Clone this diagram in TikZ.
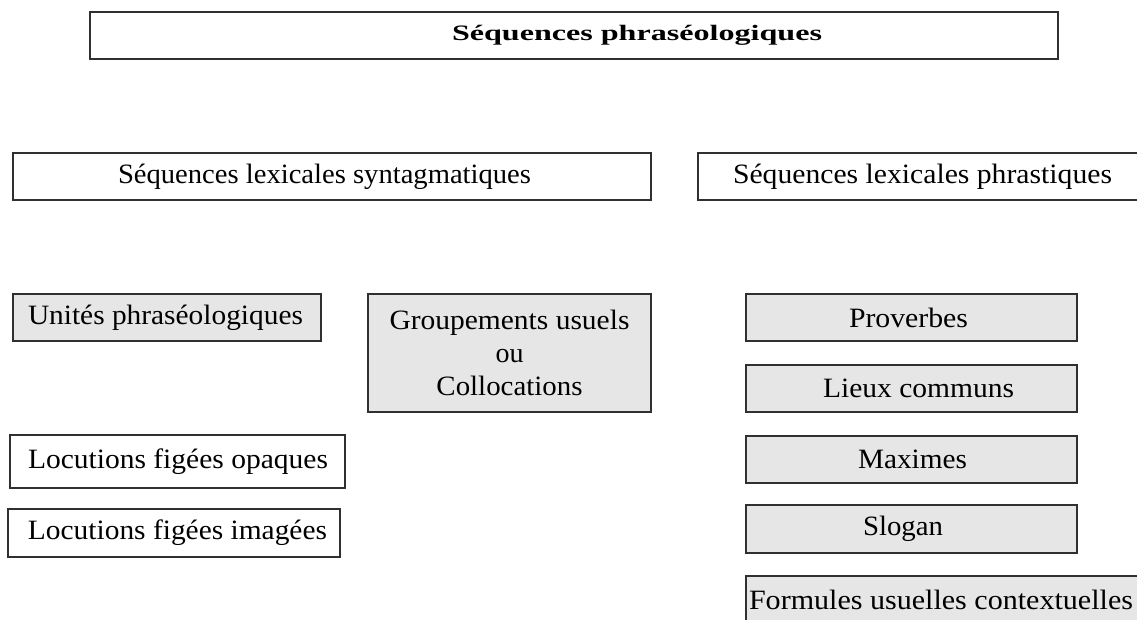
\documentclass[tikz,border=0pt]{standalone}
\usepackage{fontspec}
\setmainfont{Liberation Serif}
\usepackage{graphicx}
\definecolor{boxgray}{HTML}{E6E6E6}
\definecolor{boxline}{HTML}{303030}
\tikzset{
  box/.style={draw=boxline, line width=1.4pt, inner sep=0pt, rectangle},
  txt/.style={font=\fontsize{28}{33}\selectfont},
  ttl/.style={font=\bfseries\fontsize{22}{26}\selectfont}
}
% name, x1, y1, x2, y2, text left, text right, text, fill
\newcommand\bx[9]{%
  \node[box,fill=#9,minimum width=#4-#2,minimum height=#5-#3]
    (#1) at (\fpeval{(#2+#4)/2},-\fpeval{(#3+#5)/2})
    {\makebox[\fpeval{#4-#2}pt][l]{\hspace*{\fpeval{#6-#2}pt}\resizebox{\fpeval{#7-#6}pt}{\height}{#8}}};}
\begin{document}
\begin{tikzpicture}[x=1pt,y=1pt]
\useasboundingbox (0,0) rectangle (1137,-619);
\clip (0,0) rectangle (1137,-619);
\fill[white] (0,0) rectangle (1137,-619);
\begin{scope}[ttl]
\bx{top}{90}{12}{1058}{59}{452}{822}{Séquences phraséologiques}{white}
\end{scope}
\begin{scope}[txt]
\bx{synt}{13}{153}{651}{200}{118}{531}{Séquences lexicales syntagmatiques}{white}
\bx{phrast}{698}{153}{1150}{200}{733}{1112}{Séquences lexicales phrastiques}{white}
\bx{unit}{13}{294}{321}{341}{28}{303}{Unités phraséologiques}{boxgray}
\node[box,fill=boxgray,minimum width=283,minimum height=118] (group) at (509.5,-353)
  {\parbox{283pt}{\centering
   \resizebox{240pt}{\height}{Groupements usuels}\\
   \resizebox{28pt}{\height}{ou}\\
   \resizebox{146pt}{\height}{Collocations}}};
\bx{prov}{746}{294}{1077}{341}{849}{968}{Proverbes}{boxgray}
\bx{lieux}{746}{365}{1077}{412}{823}{1014}{Lieux communs}{boxgray}
\bx{maxi}{746}{436}{1077}{483}{858}{967}{Maximes}{boxgray}
\bx{slogan}{746}{505}{1077}{553}{863}{943}{Slogan}{boxgray}
\bx{formu}{746}{576}{1150}{623}{749}{1133}{Formules usuelles contextuelles}{boxgray}
\bx{opaq}{10}{435}{345}{488}{28}{328}{Locutions figées opaques}{white}
\bx{imag}{8}{509}{340}{557}{28}{327}{Locutions figées imagées}{white}
\end{scope}
\end{tikzpicture}
\end{document}
